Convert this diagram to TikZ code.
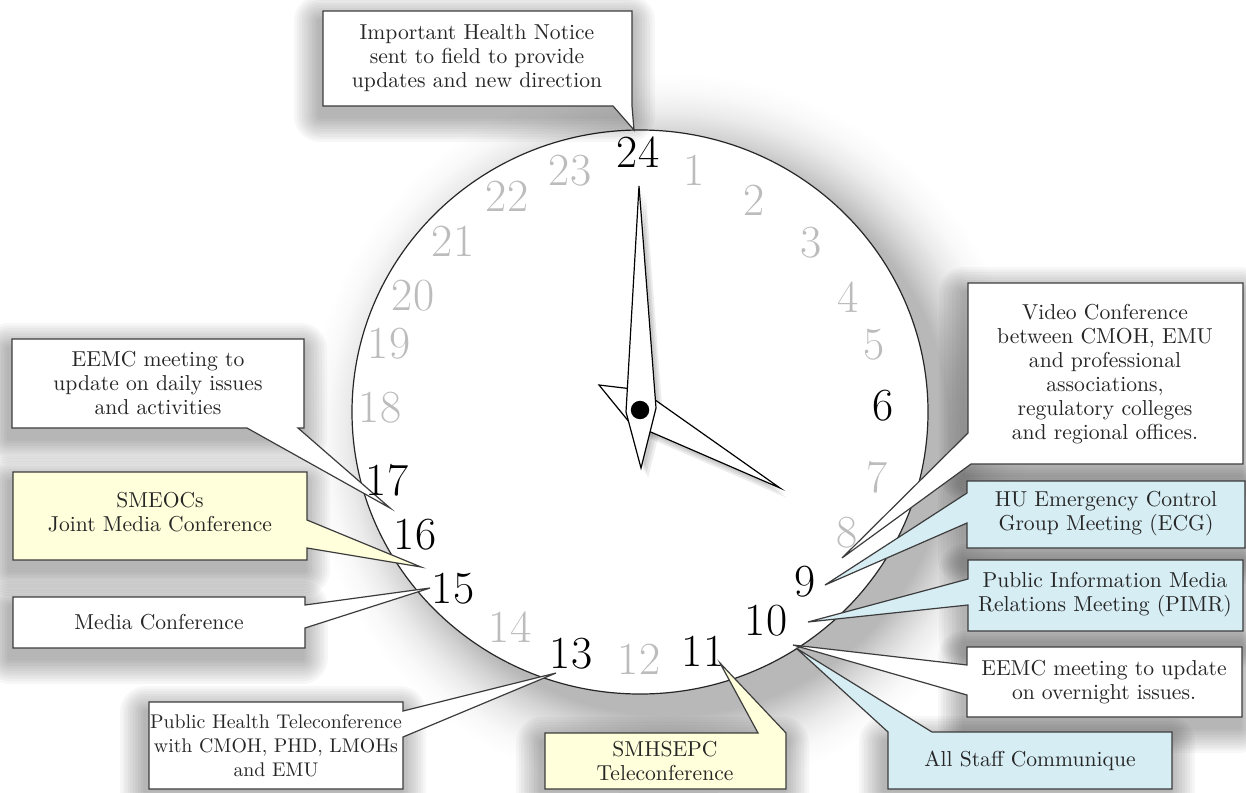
\documentclass[tikz,border=0pt]{standalone}
\definecolor{callblue}{RGB}{214,237,244}
\definecolor{callyellow}{RGB}{255,255,219}
\definecolor{numgray}{RGB}{188,188,188}
\definecolor{framegray}{RGB}{60,60,60}
% soft shadow under the clock face, drawn at its own size
\pgfdeclareradialshading{clockshade}{\pgfpoint{0bp}{0bp}}{%
  color(0bp)=(black!28); color(140bp)=(black!28); color(150bp)=(black!17);
  color(160bp)=(black!8); color(170bp)=(black!2.5); color(180bp)=(white)}
% soft shadow under a box: left, top, right, bottom
\newcommand{\softshadow}[4]{%
  \foreach \e in {1,...,10}{%
    \pgfmathsetmacro{\ea}{2.6*\e}%
    \fill[black, opacity=0.03, rounded corners=\ea*0.5pt]
      (#1-\ea-3, #2-\ea+10) rectangle (#3+\ea-3, #4+\ea+10);
  }}
% clock hands
\newcommand{\shorthandpath}{(599,385) -- (641,390) -- (780,488) -- (630,423) -- cycle}
\newcommand{\longhandpath}{(639,186) -- (656,408) -- (641,468) -- (626,412) -- cycle}
\begin{document}
\begin{tikzpicture}[x=0.5pt,y=-0.5pt,
  callout/.style={draw=framegray, line width=0.6pt, line join=miter},
  calltext/.style={align=center, font=\fontsize{10.8}{12}\selectfont, text=black!85, inner sep=0pt},
  hournum/.style={font=\fontsize{23}{23}\selectfont, inner sep=0pt},
  dimnum/.style={hournum, text=numgray},
  darknum/.style={hournum, text=black},
  hand/.style={fill=white, draw=black, line width=0.6pt, line join=miter},
  handshadow/.style={fill=black, opacity=0.07}
]
\useasboundingbox (0,0) rectangle (1246,792);
\fill[white] (0,0) rectangle (1246,792);

% clock face
\node[inner sep=0pt] (clockshadow) at (668,434) {\pgfuseshading{clockshade}};
\coordinate (ctr) at (640,412);
\path[fill=white, draw=black!85, line width=0.6pt] (ctr) ellipse [x radius=144pt, y radius=141pt];

% hands
\foreach \dx/\dy in {3/4, 5/7, 7/10} {
  \fill[handshadow, shift={(\dx,\dy)}] \shorthandpath;
  \fill[handshadow, shift={(\dx,\dy)}] \longhandpath;
}
\path[hand] \shorthandpath;
\path[hand] \longhandpath;
\fill[black] (640,410) circle [radius=4.6pt];

% box shadows
\softshadow{323}{11}{632}{106}
\softshadow{968}{283}{1243}{464}
\softshadow{967}{481}{1245}{548}
\softshadow{968}{560}{1243}{631}
\softshadow{967}{647}{1242}{717}
\softshadow{888}{732}{1172}{789}
\softshadow{545}{733}{786}{789}
\softshadow{149}{702}{403}{789}
\softshadow{13}{597}{305}{648}
\softshadow{13}{472}{307}{560}
\softshadow{12}{339}{304}{428}

% callouts: box outline with its pointer
% Important Health Notice
\path[callout, fill=white] (323,11) -- (632,11) -- (632,106) -- (634,130) coordinate (p24)
  -- (613,106) -- (323,106) -- cycle;
\node[calltext] (notice) at (477,58) {Important Health Notice\\sent to field to provide\\updates and new direction};

% Video Conference
\path[callout, fill=white] (968,283) -- (1243,283) -- (1243,464) -- (971,464) -- (842,558) coordinate (p8)
  -- (968,433) -- cycle;
\node[calltext] (video) at (1105,374) {Video Conference\\between CMOH, EMU\\and professional\\associations,\\regulatory colleges\\and regional offices.};

% HU Emergency Control Group
\path[callout, fill=callblue] (967,481) -- (1245,481) -- (1245,548) -- (967,548) -- (967,523)
  -- (825,585) coordinate (p9) -- (967,493) -- cycle;
\node[calltext] (ecg) at (1106,514) {HU Emergency Control\\Group Meeting (ECG)};

% Public Information Media Relations
\path[callout, fill=callblue] (968,560) -- (1243,560) -- (1243,631) -- (968,631) -- (968,605)
  -- (808,622) coordinate (p10a) -- (968,579) -- cycle;
\node[calltext] (pimr) at (1105,595) {Public Information Media\\Relations Meeting (PIMR)};

% EEMC overnight
\path[callout, fill=white] (967,647) -- (1242,647) -- (1242,717) -- (967,717) -- (967,695)
  -- (793,645) coordinate (p10b) -- (967,665) -- cycle;
\node[calltext] (overnight) at (1104,682) {EEMC meeting to update\\on overnight issues.};

% All Staff Communique
\path[callout, fill=callblue] (888,789) -- (888,732) -- (796,648) coordinate (p10c) -- (932,732)
  -- (1172,732) -- (1172,789) -- cycle;
\node[calltext] (staff) at (1030,761) {All Staff Communique};

% SMHSEPC Teleconference
\path[callout, fill=callyellow] (545,733) -- (758,733) -- (720,663) coordinate (p11) -- (786,733)
  -- (786,789) -- (545,789) -- cycle;
\node[calltext] (smhsepc) at (665,761) {SMHSEPC\\Teleconference};

% Public Health Teleconference
\path[callout, fill=white] (149,702) -- (403,702) -- (403,711) -- (556,673) coordinate (p13)
  -- (403,737) -- (403,789) -- (149,789) -- cycle;
\node[calltext, font=\fontsize{9.9}{12}\selectfont] (phtele) at (276,746) {Public Health Teleconference\\with CMOH, PHD, LMOHs\\and EMU};

% Media Conference
\path[callout, fill=white] (13,597) -- (305,597) -- (305,605) -- (430,588) coordinate (p15)
  -- (305,628) -- (305,648) -- (13,648) -- cycle;
\node[calltext] (media) at (159,622) {Media Conference};

% SMEOCs Joint Media Conference
\path[callout, fill=callyellow] (13,472) -- (307,472) -- (307,520) -- (421,567) coordinate (p16)
  -- (307,548) -- (307,560) -- (13,560) -- cycle;
\node[calltext] (smeocs) at (160,512) {SMEOCs\\Joint Media Conference};

% EEMC daily
\path[callout, fill=white] (12,339) -- (304,339) -- (304,428) -- (298,428) -- (390,508) coordinate (p17)
  -- (247,428) -- (12,428) -- cycle;
\node[calltext] (daily) at (158,383) {EEMC meeting to\\update on daily issues\\and activities};

% hour numbers
\foreach \n/\px/\py in {1/694/170, 2/754/200, 3/811/243, 4/848/297, 5/874/345,
    7/877/477, 8/847/533, 12/639/659, 14/510/627, 18/380/408, 19/389/344,
    20/413/296, 21/453/241, 22/507/196, 23/570/171}
  \node[dimnum] (h\n) at (\px,\py) {\n};
\foreach \n/\px/\py in {24/638/152, 6/883/406, 9/805/582, 10/766/621, 11/703/651,
    13/571/654, 15/453/589, 16/415/535, 17/387/480}
  \node[darknum] (h\n) at (\px,\py) {\n};
\end{tikzpicture}
\end{document}
